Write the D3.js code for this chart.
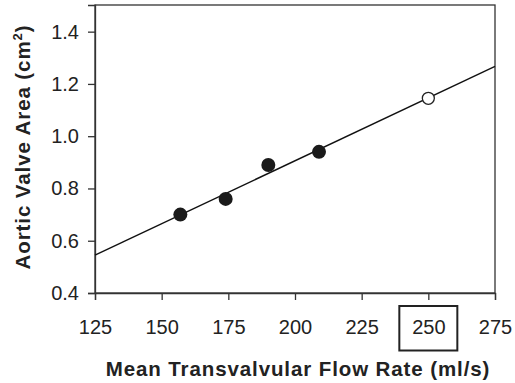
<!DOCTYPE html>
<html><head><meta charset="utf-8">
<script src="https://cdn.jsdelivr.net/npm/d3@7"></script>
<style>body{margin:0;background:#fff}svg{display:block}</style>
</head><body>
<script>
const flowRates = [157, 174, 190, 209];
const valveAreas = [0.70, 0.76, 0.89, 0.94];
const openFlow = [250];
const openArea = [1.145];
const fitLine = [[125, 0.545], [275, 1.267]];
const xTicks = [125, 150, 175, 200, 225, 250, 275];
const yTicks = [0.4, 0.6, 0.8, 1.0, 1.2, 1.4];
const highlightTick = 250;

const W = 515, H = 383;
const m = {l: 95, r: 20, t: 5, b: 90};
const svg = d3.select("body").append("svg").attr("width", W).attr("height", H);
const x = d3.scaleLinear().domain([125, 275]).range([m.l, W - m.r]);
const y = d3.scaleLinear().domain([0.4, 1.502]).range([H - m.b, m.t]);
const font = "Liberation Sans, Arial, Helvetica, sans-serif";

// frame
svg.append("rect").attr("x", m.l).attr("y", m.t).attr("width", x(275) - m.l).attr("height", y(0.4) - m.t)
  .attr("fill", "none").attr("stroke", "#333").attr("stroke-width", 1.3);

const xa = svg.append("g").attr("transform", `translate(0,${y(0.4)})`)
  .call(d3.axisBottom(x).tickValues(xTicks).tickSize(7).tickPadding(20).tickFormat(d3.format("d")));
const ya = svg.append("g").attr("transform", `translate(${m.l},0)`)
  .call(d3.axisLeft(y).tickValues(yTicks).tickSize(7).tickPadding(9).tickFormat(d3.format(".1f")));
[xa, ya].forEach(a => {
  a.select(".domain").attr("stroke", "#333").attr("stroke-width", 1.3);
  a.selectAll(".tick line").attr("stroke", "#333").attr("stroke-width", 1.3);
  a.selectAll("text").attr("font-family", font).attr("font-size", 20).attr("fill", "#222");
});

// box around highlighted tick
svg.append("rect").attr("x", x(highlightTick) - 29).attr("y", 306).attr("width", 58).attr("height", 44.5)
  .attr("fill", "none").attr("stroke", "#222").attr("stroke-width", 2);

// regression line
svg.append("path").datum(fitLine)
  .attr("d", d3.line().x(d => x(d[0])).y(d => y(d[1])))
  .attr("stroke", "#111").attr("stroke-width", 1.4).attr("fill", "none");

// filled points
svg.selectAll("circle.f").data(flowRates).join("circle").attr("class", "f")
  .attr("cx", d => x(d)).attr("cy", (d, i) => y(valveAreas[i])).attr("r", 7).attr("fill", "#1a1a1a");
// open point
svg.selectAll("circle.o").data(openFlow).join("circle").attr("class", "o")
  .attr("cx", d => x(d)).attr("cy", (d, i) => y(openArea[i])).attr("r", 6)
  .attr("fill", "#fff").attr("stroke", "#222").attr("stroke-width", 1.3);

// axis titles
svg.append("text").attr("x", 298).attr("y", 376).attr("text-anchor", "middle")
  .attr("font-family", font).attr("font-weight", "bold").attr("font-size", 20.5)
  .attr("letter-spacing", 0.9).attr("fill", "#222")
  .text("Mean Transvalvular Flow Rate (ml/s)");
const yt = svg.append("text").attr("transform", "translate(30,147) rotate(-90)").attr("text-anchor", "middle")
  .attr("font-family", font).attr("font-weight", "bold").attr("font-size", 20.5)
  .attr("letter-spacing", 0.9).attr("fill", "#222");
yt.append("tspan").text("Aortic Valve Area (cm");
yt.append("tspan").attr("dy", -8).attr("font-size", 13).text("2");
yt.append("tspan").attr("dy", 8).text(")");
</script>
</body></html>
